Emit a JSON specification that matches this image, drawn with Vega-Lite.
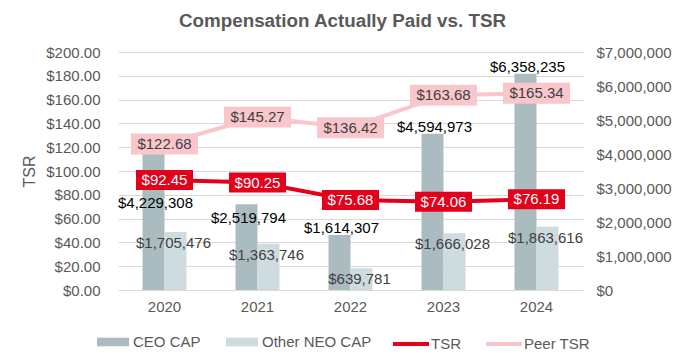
{
  "$schema": "https://vega.github.io/schema/vega-lite/v6.json",
  "width": 465,
  "height": 238,
  "autosize": {"type": "none"},
  "padding": {"left": 118, "top": 52, "right": 102, "bottom": 71},
  "background": "white",
  "config": {
    "font": "Liberation Sans",
    "view": {"stroke": null},
    "axis": {"labelFont": "Liberation Sans", "labelFontSize": 15, "labelColor": "#595959", "domain": false, "ticks": false},
    "legend": {"labelFont": "Liberation Sans", "labelFontSize": 15, "labelColor": "#595959", "padding": 0}
  },
  "title": {
    "text": "Compensation Actually Paid vs. TSR",
    "fontSize": 18.8,
    "fontWeight": "bold",
    "color": "#595959",
    "anchor": "middle",
    "dx": -8,
    "offset": 14
  },
  "data": {
    "values": [
      {"year": "2020", "series": "CEO CAP", "value": 4229308},
      {"year": "2021", "series": "CEO CAP", "value": 2519794},
      {"year": "2022", "series": "CEO CAP", "value": 1614307},
      {"year": "2023", "series": "CEO CAP", "value": 4594973},
      {"year": "2024", "series": "CEO CAP", "value": 6358235},
      {"year": "2020", "series": "Other NEO CAP", "value": 1705476},
      {"year": "2021", "series": "Other NEO CAP", "value": 1363746},
      {"year": "2022", "series": "Other NEO CAP", "value": 639781},
      {"year": "2023", "series": "Other NEO CAP", "value": 1666028},
      {"year": "2024", "series": "Other NEO CAP", "value": 1863616},
      {"year": "2020", "series": "TSR", "value": 92.45},
      {"year": "2021", "series": "TSR", "value": 90.25},
      {"year": "2022", "series": "TSR", "value": 75.68},
      {"year": "2023", "series": "TSR", "value": 74.06},
      {"year": "2024", "series": "TSR", "value": 76.19},
      {"year": "2020", "series": "Peer TSR", "value": 122.68},
      {"year": "2021", "series": "Peer TSR", "value": 145.27},
      {"year": "2022", "series": "Peer TSR", "value": 136.42},
      {"year": "2023", "series": "Peer TSR", "value": 163.68},
      {"year": "2024", "series": "Peer TSR", "value": 165.34}
    ]
  },
  "encoding": {
    "x": {
      "field": "year",
      "type": "nominal",
      "scale": {"paddingInner": 0.527, "paddingOuter": 0.2635},
      "axis": {"title": null, "labelAngle": 0, "labelPadding": 9, "grid": false}
    }
  },
  "layer": [
    {
      "encoding": {
        "y": {
          "field": "value",
          "type": "quantitative",
          "scale": {"domain": [0, 7000000], "nice": false},
          "axis": {
            "orient": "right",
            "title": null,
            "values": [0, 1000000, 2000000, 3000000, 4000000, 5000000, 6000000, 7000000],
            "format": "$,.0f",
            "grid": false,
            "labelPadding": 13
          }
        },
        "xOffset": {
          "field": "series",
          "type": "nominal",
          "scale": {"domain": ["CEO CAP", "Other NEO CAP"], "paddingInner": 0, "paddingOuter": 0}
        }
      },
      "layer": [
        {
          "transform": [{"filter": "datum.series == 'CEO CAP' || datum.series == 'Other NEO CAP'"}],
          "mark": {"type": "bar"},
          "encoding": {
            "fill": {
              "field": "series",
              "type": "nominal",
              "scale": {"domain": ["CEO CAP", "Other NEO CAP"], "range": ["#aabcc0", "#cfdcdf"]},
              "legend": {
                "orient": "none",
                "legendX": -21,
                "legendY": 274,
                "direction": "horizontal",
                "title": null,
                "symbolType": "M-1,-0.27L1,-0.27L1,0.27L-1,0.27Z",
                "symbolSize": 1024,
                "symbolStrokeWidth": 0,
                "labelOffset": 4,
                "columnPadding": 25
              }
            }
          }
        },
        {
          "transform": [{"filter": "datum.series == 'CEO CAP'"}],
          "mark": {
            "type": "text",
            "fontSize": 15,
            "fill": "#000000",
            "baseline": "middle",
            "align": "center",
            "dx": 2,
            "dy": {"expr": "datum.year == '2020' ? 57 : (datum.year == '2021' ? 14 : -7)"}
          },
          "encoding": {"text": {"field": "value", "type": "quantitative", "format": "$,.0f"}}
        },
        {
          "transform": [{"filter": "datum.series == 'Other NEO CAP'"}],
          "mark": {
            "type": "text",
            "fontSize": 15,
            "fill": "#404040",
            "baseline": "middle",
            "align": "center",
            "dx": -2,
            "dy": 11
          },
          "encoding": {"text": {"field": "value", "type": "quantitative", "format": "$,.0f"}}
        }
      ]
    },
    {
      "encoding": {
        "y": {
          "field": "value",
          "type": "quantitative",
          "scale": {"domain": [0, 200], "nice": false},
          "axis": {
            "orient": "left",
            "title": "TSR",
            "titleFontSize": 16,
            "titleFontWeight": "normal",
            "titleColor": "#595959",
            "titleFont": "Liberation Sans",
            "titlePadding": 8,
            "values": [0, 20, 40, 60, 80, 100, 120, 140, 160, 180, 200],
            "format": "$,.2f",
            "grid": true,
            "gridColor": "#d9d9d9",
            "gridWidth": 1,
            "labelPadding": 18
          }
        }
      },
      "layer": [
        {
          "transform": [{"filter": "datum.series == 'TSR' || datum.series == 'Peer TSR'"}],
          "mark": {"type": "line", "strokeWidth": 4},
          "encoding": {
            "stroke": {
              "field": "series",
              "type": "nominal",
              "scale": {"domain": ["TSR", "Peer TSR"], "range": ["#e3001b", "#f9c6cc"]},
              "legend": {
                "orient": "none",
                "legendX": 273,
                "legendY": 272,
                "direction": "horizontal",
                "title": null,
                "symbolType": "stroke",
                "symbolSize": 1296,
                "symbolStrokeWidth": 4,
                "labelOffset": 0,
                "columnPadding": 17
              }
            }
          }
        },
        {
          "transform": [{"filter": "datum.series == 'Peer TSR'"}],
          "mark": {
            "type": "point",
            "shape": "M-1,-0.313L1,-0.313L1,0.313L-1,0.313Z",
            "size": 4489,
            "filled": true,
            "fill": "#f9c6cc",
            "opacity": 1,
            "strokeWidth": 0
          }
        },
        {
          "transform": [{"filter": "datum.series == 'TSR'"}],
          "mark": {
            "type": "point",
            "shape": "M-1,-0.351L1,-0.351L1,0.351L-1,0.351Z",
            "size": 3249,
            "filled": true,
            "fill": "#e3001b",
            "opacity": 1,
            "strokeWidth": 0
          }
        },
        {
          "transform": [{"filter": "datum.series == 'Peer TSR'"}],
          "mark": {"type": "text", "fontSize": 15, "fill": "#404040", "baseline": "middle", "align": "center"},
          "encoding": {"text": {"field": "value", "type": "quantitative", "format": "$,.2f"}}
        },
        {
          "transform": [{"filter": "datum.series == 'TSR'"}],
          "mark": {"type": "text", "fontSize": 15, "fill": "#ffffff", "baseline": "middle", "align": "center"},
          "encoding": {"text": {"field": "value", "type": "quantitative", "format": "$,.2f"}}
        }
      ]
    }
  ],
  "resolve": {"scale": {"y": "independent"}}
}
